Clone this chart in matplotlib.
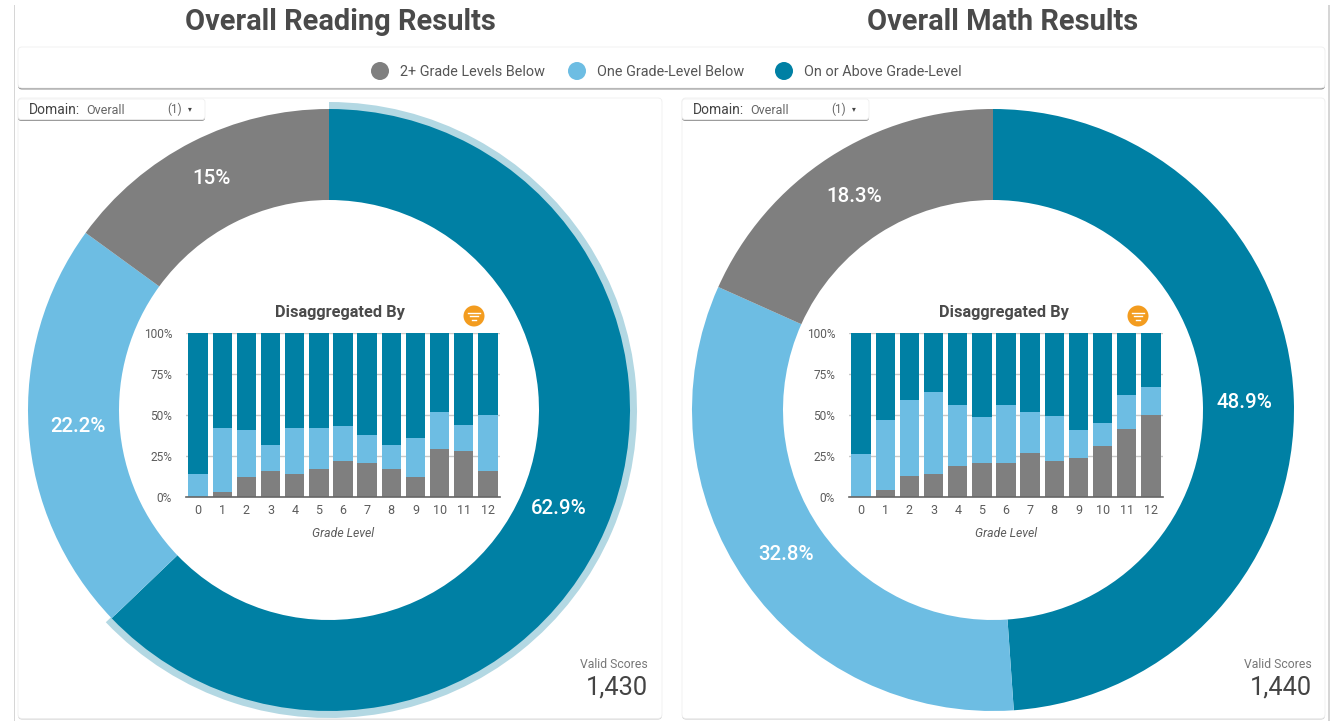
import matplotlib
matplotlib.use('Agg')
import matplotlib.pyplot as plt
from matplotlib.patches import FancyBboxPatch, Rectangle, Circle

plt.rcParams['font.family'] = ['Roboto', 'DejaVu Sans']

W, H = 1336, 721

# data
legend_labels = ['2+ Grade Levels Below', 'One Grade-Level Below', 'On or Above Grade-Level']
grades = ['0', '1', '2', '3', '4', '5', '6', '7', '8', '9', '10', '11', '12']

reading_overall = [62.9, 22.2, 15]
math_overall = [48.9, 32.8, 18.3]

reading_grey = [0, 3, 12, 16, 14, 17, 22, 21, 17, 12, 29, 28, 16]
reading_light = [14, 39, 29, 16, 28, 25, 21.5, 17, 15, 24, 23, 16, 34]
reading_teal = [86, 58, 59, 68, 58, 58, 56.5, 62, 68, 64, 48, 56, 50]

math_grey = [0, 4.5, 13, 14, 19, 21, 21, 27, 22, 24, 31, 41.5, 50]
math_light = [26, 42.5, 46, 50, 37, 28, 35, 25, 27.5, 17, 14, 20.5, 17]
math_teal = [74, 53, 41, 36, 44, 51, 44, 48, 50.5, 59, 55, 38, 33]

TEAL = '#0080a4'
LIGHT = '#6dbde3'
GREY = '#7f7f7f'
RING = '#b3d8e3'
TEXT = '#4a4a4a'


def axes_px(fig, x0, y0, x1, y1, **kw):
    return fig.add_axes([x0 / W, 1 - y1 / H, (x1 - x0) / W, (y1 - y0) / H], **kw)


def card(bg, x0, y0, x1, y1, r=3, shadow='#c4c4c4', off=1.5, z=1, edge='#efefef'):
    bg.add_patch(FancyBboxPatch((x0, y0 + off), x1 - x0, y1 - y0, boxstyle=f'round,pad=0,rounding_size={r}',
                                fc=shadow, ec='none', zorder=z))
    bg.add_patch(FancyBboxPatch((x0, y0), x1 - x0, y1 - y0, boxstyle=f'round,pad=0,rounding_size={r}',
                                fc='white', ec=edge, lw=0.6, zorder=z + 0.1))


def donut(fig, cx, cy, values, ring=False):
    R = 301
    pad = 10
    ax = axes_px(fig, cx - R - pad, cy - R - pad, cx + R + pad, cy + R + pad)
    ax.patch.set_alpha(0)
    if ring:
        # hover highlight around the biggest slice
        ax.pie([values[0], 100 - values[0]], radius=R + 7, startangle=90, counterclock=False,
               colors=[RING, 'none'], frame=True, wedgeprops=dict(width=12, lw=0))
    ax.pie(values, radius=R, startangle=90, counterclock=False, colors=[TEAL, LIGHT, GREY], frame=True,
           wedgeprops=dict(width=R - 210, lw=0))
    ax.set_xlim(-R - pad, R + pad)
    ax.set_ylim(-R - pad, R + pad)
    ax.set_aspect('equal')
    ax.axis('off')
    return ax


def stacked(fig, x0, x1, grey, light, teal):
    ax = axes_px(fig, x0, 333, x1, 497)
    ax.patch.set_alpha(0)
    ax.bar(grades, grey, width=0.8, color=GREY, zorder=3)
    ax.bar(grades, light, bottom=grey, width=0.8, color=LIGHT, zorder=3)
    ax.bar(grades, teal, bottom=[g + l for g, l in zip(grey, light)], width=0.8, color=TEAL, zorder=3)
    ax.set_xlim(-0.5, 12.5)
    ax.set_ylim(0, 100)
    ax.set_yticks([0, 25, 50, 75, 100])
    ax.set_yticklabels(['0%', '25%', '50%', '75%', '100%'], fontsize=8.6, color='#5c5c5c')
    ax.tick_params(axis='y', length=0, pad=10)
    ax.tick_params(axis='x', length=0, pad=5, labelsize=9, labelcolor='#5c5c5c')
    ax.grid(axis='y', color='#c9c9c9', lw=1, zorder=0)
    for s in ['top', 'right', 'left']:
        ax.spines[s].set_visible(False)
    ax.spines['bottom'].set_color('#666666')
    ax.spines['bottom'].set_linewidth(1.2)
    ax.spines['bottom'].set_zorder(4)
    ax.set_xlabel('Grade Level', fontsize=8.8, style='italic', color='#5c5c5c', labelpad=7)
    return ax


def panel_text(bg, dx, title, tx, total):
    bg.text(tx, 22.5, title, fontsize=20.9, fontweight='bold', color=TEXT, ha='center', va='center', zorder=6)
    # domain button
    card(bg, 18 + dx, 99, 205 + dx, 119.5, r=3, shadow='#9c9c9c', off=1.5, z=3)
    bg.text(29 + dx, 110, 'Domain:', fontsize=10, color='#444444', va='center', zorder=6)
    bg.text(86 + dx, 110.5, 'Overall', fontsize=9, color='#666666', va='center', zorder=6)
    bg.text(167 + dx, 109.5, '(1)', fontsize=8.4, color='#666666', va='center', zorder=6)
    bg.text(190 + dx, 108.5, '▾', fontsize=5.5, color='#444444', va='center', ha='center', zorder=6,
            family='DejaVu Sans')
    bg.text(647.5 + dx, 664, 'Valid Scores', fontsize=8.8, color='#777777', ha='right', va='center', zorder=6)
    bg.text(647.5 + dx, 687, total, fontsize=18.4, color='#444444', ha='right', va='center', zorder=6)


def center_text(ov, cx_title, icon_x):
    ov.text(cx_title, 312, 'Disaggregated By', fontsize=11.8, fontweight='bold', color=TEXT, ha='center', va='center')
    ov.add_patch(Circle((icon_x, 316), 10.5, fc='#f39c1f', ec='none'))
    for half, yy in [(6, 312.5), (4, 316), (2, 319.5)]:
        ov.plot([icon_x - half, icon_x + half], [yy, yy], color='white', lw=1)


fig = plt.figure(figsize=(W / 100, H / 100), dpi=100, facecolor='white')

bg = axes_px(fig, 0, 0, W, H)
bg.set_xlim(0, W)
bg.set_ylim(H, 0)
bg.axis('off')

# outer sheet and panels
bg.add_patch(Rectangle((13.5, 5), 1316.5, 730, fc='#d6d6d6', ec='none', zorder=0.2))
bg.add_patch(Rectangle((15, 5), 1313, 730, fc='white', ec='none', zorder=0.3))
card(bg, 18, 47, 1325, 88, r=4, shadow='#8f8f8f', off=1.5)
card(bg, 18, 98, 662, 718.5, r=4, shadow='#c8c8c8', off=1)
card(bg, 682, 98, 1325, 718.5, r=4, shadow='#c8c8c8', off=1)

# legend
legend_x = [380, 577, 784]
legend_colors = [GREY, LIGHT, TEAL]
for x, c, s in zip(legend_x, legend_colors, legend_labels):
    bg.add_patch(Circle((x, 71), 9, fc=c, ec='none', zorder=5))
    bg.text(x + 20, 72, s, fontsize=10.4, color='#555555', va='center', zorder=6)

panel_text(bg, 0, 'Overall Reading Results', 340, '1,430')
panel_text(bg, 664, 'Overall Math Results', 1003, '1,440')

donut(fig, 329, 410, reading_overall, ring=True)
donut(fig, 993, 410, math_overall)

stacked(fig, 186, 500, reading_grey, reading_light, reading_teal)
stacked(fig, 849, 1163, math_grey, math_light, math_teal)

# overlay for labels that sit on top of the donuts
ov = axes_px(fig, 0, 0, W, H)
ov.patch.set_alpha(0)
center_text(ov, 340, 474)
center_text(ov, 1004, 1138)
ov.set_xlim(0, W)
ov.set_ylim(H, 0)
ov.axis('off')
slice_labels = [(559, 509, '62.9%'), (78, 426, '22.2%'), (211, 178, '15%'),
                (1244, 402, '48.9%'), (786, 555, '32.8%'), (854, 196, '18.3%')]
for x, y, s in slice_labels:
    ov.text(x, y, s, fontsize=14.8, fontweight='medium', color='white', ha='center', va='center')

fig.savefig('out.png', dpi=100)
